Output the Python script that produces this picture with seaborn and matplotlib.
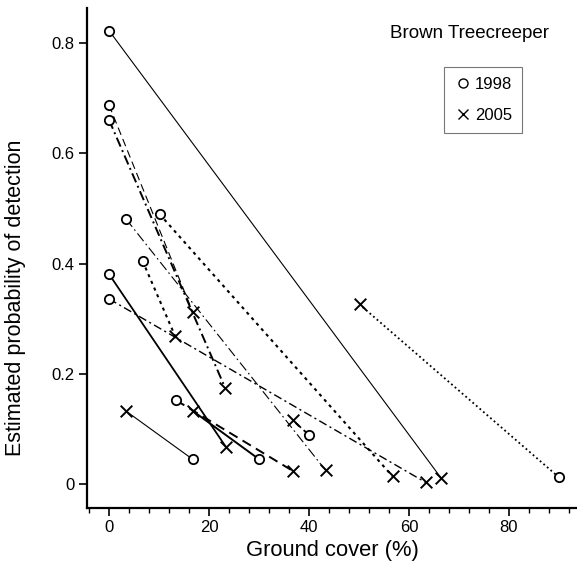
import matplotlib
matplotlib.use("Agg")
import matplotlib.pyplot as plt
import seaborn as sns
import pandas as pd
from matplotlib.ticker import MultipleLocator
from matplotlib.lines import Line2D

# Data: each site measured in 1998 (circle) and 2005 (cross)
x1998 = [0, 0, 0, 3.4, 10.1, 6.7, 0, 0, 13.4, 16.7, 30.0, 40.0, 90.0]
y1998 = [0.823, 0.688, 0.661, 0.481, 0.490, 0.405, 0.381, 0.336, 0.152, 0.045, 0.045, 0.089, 0.012]
x2005 = [66.4, 16.7, 23.2, 43.3, 56.7, 13.2, 23.4, 63.3, 36.7, 3.3, 16.7, 36.7, 50.1]
y2005 = [0.011, 0.313, 0.175, 0.025, 0.014, 0.269, 0.067, 0.003, 0.024, 0.133, 0.133, 0.116, 0.326]

styles = ['-', (0, (7, 4)), (0, (5, 2, 1, 2)), (0, (9, 3, 1.5, 3)), (0, (1.5, 2)),
          (0, (1.5, 2)), '-', (0, (6, 2.5, 1.5, 2.5)), (0, (5, 3)), '-', '-', (0, (4, 2)), (0, (1, 1.6))]
widths = [0.8, 0.8, 1.4, 0.8, 1.5, 1.5, 1.3, 1.0, 1.4, 0.8, 1.4, 1.3, 1.3]

sns.set_style("ticks", {'axes.edgecolor': 'black', 'text.color': 'black',
                        'xtick.color': 'black', 'ytick.color': 'black',
                        'axes.labelcolor': 'black'})
plt.rcParams['font.family'] = ['Liberation Sans', 'DejaVu Sans']

fig = plt.figure(figsize=(5.77, 5.66), dpi=100)
ax = fig.add_axes([87/577, 1 - 508/566, 490/577, 500/566])

for i in range(len(x1998)):
    seg = pd.DataFrame({'x': [x1998[i], x2005[i]], 'y': [y1998[i], y2005[i]]})
    sns.lineplot(data=seg, x='x', y='y', ax=ax, color='black', lw=widths[i],
                 linestyle=styles[i], sort=False, estimator=None)

d98 = pd.DataFrame({'x': x1998, 'y': y1998})
d05 = pd.DataFrame({'x': x2005, 'y': y2005})
sns.scatterplot(data=d98, x='x', y='y', ax=ax, marker='o', s=45,
                facecolors='white', edgecolor='black', linewidth=1.3, zorder=5)
sns.scatterplot(data=d05, x='x', y='y', ax=ax, marker='x', s=70,
                color='black', linewidth=1.4, zorder=5)

ax.set_xlim(-4.4, 93.6)
ax.set_ylim(-0.0436, 0.864)
ax.xaxis.set_minor_locator(MultipleLocator(4))
ax.set_yticks([0, 0.2, 0.4, 0.6, 0.8])
ax.set_yticklabels(['0', '0.2', '0.4', '0.6', '0.8'])
ax.set_xticks([0, 20, 40, 60, 80])
ax.set_xticklabels(['0', '20', '40', '60', '80'])

sns.despine(ax=ax)
for sp in ['left', 'bottom']:
    ax.spines[sp].set_linewidth(1.6)
    ax.spines[sp].set_color('black')
ax.tick_params(axis='both', which='major', length=6, width=1.2, labelsize=12, pad=3, colors='black')
ax.tick_params(axis='x', which='minor', length=3.5, width=1.0, colors='black')

ax.set_xlabel('Ground cover (%)', fontsize=15.8, labelpad=3, color='black')
ax.set_ylabel('Estimated probability of detection', fontsize=15.5, color='black')
ax.yaxis.set_label_coords(-0.125, 0.42)

ax.text(0.78, 0.95, 'Brown Treecreeper', transform=ax.transAxes, ha='center', va='center',
        fontsize=13.5, color='black')

handles = [Line2D([], [], marker='o', color='black', markerfacecolor='white', linestyle='none', markersize=6.5),
           Line2D([], [], marker='x', color='black', linestyle='none', markersize=6.5)]
leg = ax.legend(handles, ['1998', '2005'], loc='upper left', bbox_to_anchor=(0.729, 0.882),
                frameon=True, fancybox=False, fontsize=12, handletextpad=0.25, handlelength=1.0,
                borderpad=0.6, labelspacing=0.95, borderaxespad=0)
leg.get_frame().set_edgecolor('#555555')
leg.get_frame().set_linewidth(0.8)
for t in leg.get_texts():
    t.set_color('black')

fig.savefig('out.png', dpi=100)
